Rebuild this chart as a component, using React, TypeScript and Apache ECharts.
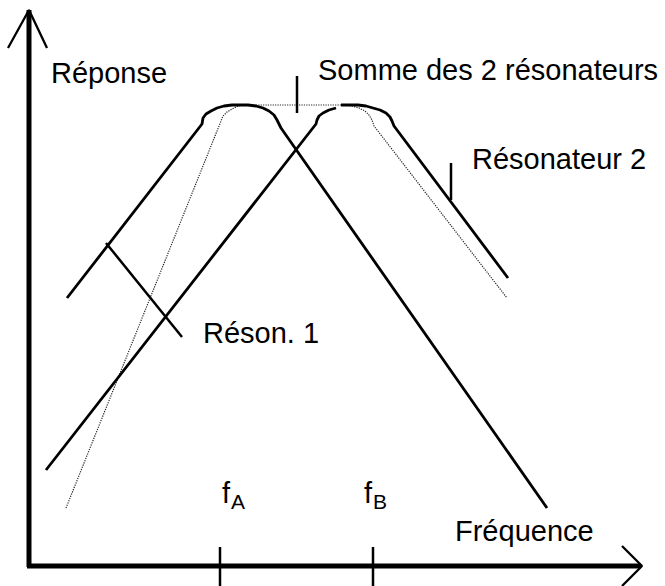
import React, { useEffect, useRef } from "react";
import * as echarts from "echarts";

// Schematic frame: frequency units (x) and response units (y, drawn top-down)
const FREQ_RANGE = [0, 665];
const RESP_RANGE = [0, 586];

// Resonator 1 response (solid)
const reson1Curve = [
  [67, 298], [202, 124], [203, 118], [206, 114], [211, 111], [217, 108], [224, 106],
  [232, 105], [240, 105], [248, 105], [256, 106], [263, 108], [269, 111], [274, 115],
  [277, 120], [279, 124], [281, 128], [547, 508],
];
// Resonator 2 response (solid, two strokes)
const reson2Rise = [[46, 470], [316, 124], [317, 120], [319, 116], [323, 113], [329, 110], [336, 108]];
const reson2Top = [
  [341, 105], [350, 105], [358, 105], [366, 106], [373, 108], [380, 110], [386, 113],
  [390, 117], [392, 121], [394, 126], [508, 278],
];
// Sum of the two resonators (dotted)
const sumCurve = [
  [66, 508], [221, 121], [223, 116], [227, 112], [232, 109], [238, 106], [245, 105],
  [345, 105], [352, 106], [359, 108], [365, 111], [369, 115], [372, 120], [374, 126], [507, 298],
];

// Axes and arrows
const yAxisLine = [[29, 567], [29, 10]];
const xAxisLine = [[27, 566], [641, 566]];
const yArrow = [[8, 48], [29, 10], [47, 48]];
const xArrow = [[622, 546], [642, 566], [622, 586]];

// Frequency markers fA, fB
const fATick = [[220, 547], [220, 586]];
const fBTick = [[373, 547], [373, 586]];

// Label leaders
const sumLeader = [[297, 76], [297, 113]];
const reson2Leader = [[451, 163], [451, 200]];
const reson1Leader = [[106, 243], [182, 337]];

const FONT = '"Liberation Sans", Arial, sans-serif';

function lineSeries(data: number[][], width: number, type: string = "solid", color: string = "#000") {
  return {
    type: "line",
    data,
    showSymbol: false,
    symbol: "none",
    silent: true,
    smooth: false,
    lineStyle: { color, width, type },
    z: 2,
  };
}

function txt(text: string, x: number, y: number, size: number = 29) {
  return {
    type: "text",
    x,
    y,
    silent: true,
    style: {
      text,
      font: `${size}px ${FONT}`,
      fill: "#000",
      align: "left",
      verticalAlign: "middle",
    },
  };
}

export default function App() {
  const ref = useRef<HTMLDivElement>(null);
  useEffect(() => {
    if (!ref.current) return;
    const chart = echarts.init(ref.current, undefined, { renderer: "svg" });
    chart.setOption({
      animation: false,
      backgroundColor: "#fff",
      grid: { left: 0, right: 0, top: 0, bottom: 0 },
      xAxis: { type: "value", min: FREQ_RANGE[0], max: FREQ_RANGE[1], show: false },
      yAxis: { type: "value", min: RESP_RANGE[0], max: RESP_RANGE[1], inverse: true, show: false },
      series: [
        lineSeries(sumCurve, 1.2, "dotted", "#222"),
        lineSeries(reson1Curve, 2.8),
        lineSeries(reson2Rise, 2.8),
        lineSeries(reson2Top, 2.8),
        lineSeries(yAxisLine, 5),
        lineSeries(xAxisLine, 5),
        lineSeries(yArrow, 2.3),
        lineSeries(xArrow, 2.3),
        lineSeries(fATick, 2.5),
        lineSeries(fBTick, 2.5),
        lineSeries(sumLeader, 2.5),
        lineSeries(reson2Leader, 2.5),
        lineSeries(reson1Leader, 2.5),
      ],
      graphic: [
        txt("Réponse", 51, 73),
        txt("Somme des 2 résonateurs", 318, 70),
        txt("Résonateur 2", 472, 159),
        txt("Réson. 1", 203, 333),
        txt("Fréquence", 455, 531),
        txt("f", 222, 493),
        txt("A", 231, 501, 21),
        txt("f", 364, 493),
        txt("B", 373, 501, 21),
      ],
    });
    return () => chart.dispose();
  }, []);
  return (
    <div
      ref={ref}
      style={{ position: "absolute", left: 0, top: 0, width: 665, height: 586 }}
    />
  );
}
